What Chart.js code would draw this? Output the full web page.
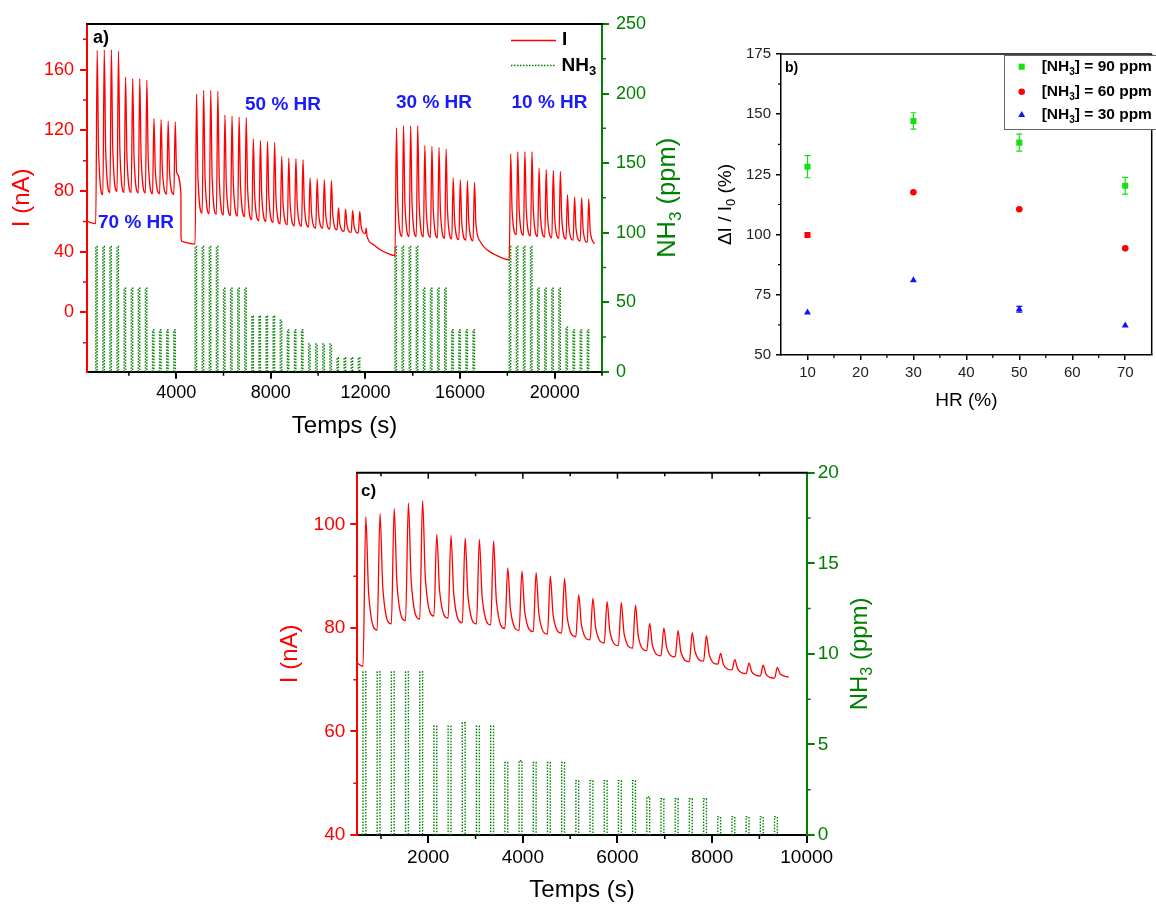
<!DOCTYPE html>
<html>
<head>
<meta charset="utf-8">
<title>NH3 response vs humidity</title>
<script src="https://cdn.jsdelivr.net/npm/chart.js@4.4.1/dist/chart.umd.min.js"></script>
<style>
  html, body { margin:0; padding:0; background:#ffffff; }
  body { width:1156px; height:906px; position:relative; overflow:hidden; }
  canvas { position:absolute; display:block; }
</style>
</head>
<body>
<canvas id="ca" width="700" height="450" style="left:0px;top:0px"></canvas>
<canvas id="cb" width="456" height="420" style="left:700px;top:0px"></canvas>
<canvas id="cc" width="620" height="451" style="left:270px;top:455px"></canvas>
<script>
const FAM = '"Liberation Sans", Arial, Helvetica, sans-serif';
Chart.defaults.font.family = FAM;
Chart.defaults.color = '#000';

// ================= DATA : panel a =================
const aXTicks  = [4000, 8000, 12000, 16000, 20000];
const aXMinor  = [2000, 6000, 10000, 14000, 18000, 22000];
const aYTicks  = [0, 40, 80, 120, 160];
const aYMinor  = [-20, 20, 60, 100, 140, 180];
const aY2Ticks = [0, 50, 100, 150, 200, 250];
const aY2Minor = [25, 75, 125, 175, 225];
const aHRText  = ['70 % HR', '50 % HR', '30 % HR', '10 % HR'];

const aLeadT = [230, 600];
const aLeadI = [60.0, 58.5];

const a1Onsets  = [600, 900, 1200, 1500, 1800, 2100, 2400, 2700, 3000, 3300, 3600, 3900];
const a1End     = 4200;
const a1Nh3     = [90, 90, 90, 90, 60, 60, 60, 60, 30, 30, 30, 30];
const a1Peaks   = [172.6, 173.0, 173.0, 172.0, 155.0, 154.0, 154.0, 153.0, 127.6, 127.0, 126.0, 125.6];
const a1Knees   = [106, 107, 108, 107, 102, 101, 101, 100, 93, 93, 92, 92];
const a1Troughs = [77.5, 79.0, 79.7, 79.0, 79.0, 78.7, 78.7, 78.2, 78.2, 78.0, 77.7, 77.5];

const aGap1T = [4205, 4240, 4800];
const aGap1I = [49.7, 46.8, 45.2];

const a2Onsets  = [4800, 5100, 5400, 5700, 6000, 6300, 6600, 6900, 7200, 7500, 7800, 8100,
                   8400, 8700, 9000, 9300, 9600, 9900, 10200, 10500, 10800, 11100, 11400, 11700];
const a2End     = 12000;
const a2Nh3     = [90, 90, 90, 90, 60, 60, 60, 60, 40, 40, 40, 40, 37, 30, 30, 30, 20, 20, 20, 20, 10, 10, 10, 10];
const a2Peaks   = [143.9, 146.3, 146.3, 145.6, 130.0, 129.4, 128.7, 128.3, 114.2, 113.3, 112.6, 112.0,
                   102.8, 101.7, 101.3, 100.7, 88.5, 87.9, 87.4, 86.8, 68.8, 68.1, 67.2, 66.5];
const a2Knees   = [89.0, 89.4, 89.1, 88.6, 83.7, 83.3, 82.9, 81.3, 76.5, 76.0, 75.3, 74.5,
                   71.3, 70.5, 70.1, 69.6, 65.5, 65.3, 64.7, 64.2, 58.0, 57.3, 56.8, 56.4];
const a2Troughs = [65.5, 65.0, 64.6, 64.2, 63.8, 63.5, 63.2, 61.1, 60.4, 60.0, 59.3, 58.4,
                   57.8, 57.1, 56.7, 56.3, 55.6, 55.6, 54.9, 54.5, 53.4, 52.7, 52.3, 52.0];

const aGap2T = [12030, 12070, 12350, 12630, 12915, 13250];
const aGap2I = [55.6, 50.1, 44.6, 41.3, 39.1, 37.4];

const a3Onsets  = [13250, 13550, 13850, 14150, 14450, 14750, 15050, 15350, 15650, 15950, 16250, 16550];
const a3End     = 16850;
const a3Nh3     = [90, 90, 90, 90, 60, 60, 60, 60, 30, 30, 30, 30];
const a3Peaks   = [121.5, 123.0, 123.0, 123.0, 110.0, 109.4, 108.7, 107.8, 88.5, 87.4, 86.8, 85.6];
const a3Knees   = [71.5, 71.9, 71.9, 71.8, 67.7, 67.3, 66.8, 66.3, 60.2, 59.6, 59.1, 58.4];
const a3Troughs = [50.0, 50.0, 50.0, 49.8, 49.5, 49.2, 48.8, 48.5, 48.0, 47.6, 47.2, 46.8];

const aGap3T = [17140, 17490, 18080];
const aGap3I = [41.3, 38.0, 34.7];

const a4Onsets  = [18080, 18380, 18680, 18980, 19280, 19580, 19880, 20180, 20480, 20780, 21080, 21380];
const a4End     = 21680;
const a4Nh3     = [90, 90, 90, 90, 60, 60, 60, 60, 32, 30, 30, 30];
const a4Peaks   = [104.5, 106.0, 106.0, 106.0, 95.1, 94.0, 93.5, 92.9, 77.5, 76.0, 75.4, 74.7];
const a4Knees   = [67.2, 67.4, 67.1, 66.8, 63.3, 62.6, 62.2, 61.8, 56.6, 55.7, 55.0, 54.1];
const a4Troughs = [51.2, 50.8, 50.4, 50.0, 49.6, 49.2, 48.8, 48.4, 47.6, 47.0, 46.2, 45.3];

// ================= DATA : panel b =================
const bHR     = [10, 30, 50, 70];
const bXTicks = [10, 20, 30, 40, 50, 60, 70];
const bXMinor = [15, 25, 35, 45, 55, 65];
const bYTicks = [50, 75, 100, 125, 150, 175];
const bYMinor = [62.5, 87.5, 112.5, 137.5, 162.5];
const bConc   = ['90', '60', '30'];
const b90     = [128.2, 147.2, 138.2, 120.3];
const b90Err  = [4.6, 3.4, 3.5, 3.5];
const b60     = [99.8, 117.6, 110.5, 94.3];
const b30     = [67.6, 81.0, 69.0, 62.3];
const b30Err  = [0, 0, 1.2, 0];

// ================= DATA : panel c =================
const cXTicks  = [2000, 4000, 6000, 8000, 10000];
const cXMinor  = [1000, 3000, 5000, 7000, 9000];
const cTopMaj  = [2000, 4000, 6000, 8000];
const cYTicks  = [40, 60, 80, 100];
const cYMinor  = [50, 70, 90];
const cY2Ticks = [0, 5, 10, 15, 20];
const cY2Minor = [2.5, 7.5, 12.5, 17.5];

const cLeadT = [500, 620];
const cLeadI = [73.2, 72.6];
const cOnsets  = [620, 920, 1220, 1520, 1820, 2120, 2420, 2720, 3020, 3320, 3620, 3920, 4220, 4520, 4820,
                  5120, 5420, 5720, 6020, 6320, 6620, 6920, 7220, 7520, 7820, 8120, 8420, 8720, 9020, 9320];
const cEnd     = 9620;
const cNh3     = [9, 9, 9, 9, 9, 6, 6, 6.2, 6, 6, 4, 4.1, 4, 4, 4, 3, 3, 3, 3, 3, 2.1, 2, 2, 2, 2, 1, 1, 1, 1, 1];
const cPeaks   = [101.5, 102.1, 103.1, 104.1, 104.6, 98.1, 97.9, 97.4, 97.1, 96.8, 91.6, 91.0, 90.7, 90.0, 89.6,
                  86.4, 85.7, 85.1, 84.9, 84.4, 80.9, 80.0, 79.5, 79.1, 78.5, 75.1, 73.9, 73.2, 72.8, 72.4];
const cKnees   = [86.6, 87.6, 88.3, 88.9, 89.4, 87.1, 86.4, 86.1, 85.9, 85.3, 83.4, 83.0, 82.6, 82.5, 81.9,
                  80.5, 79.9, 79.3, 78.9, 78.4, 76.6, 76.2, 75.4, 75.4, 74.8, 72.9, 72.1, 71.5, 71.1, 71.1];
const cTroughs = [79.6, 80.8, 81.4, 81.7, 82.3, 81.9, 81.0, 80.8, 80.6, 79.9, 79.5, 79.3, 78.8, 79.0, 78.3,
                  77.7, 77.1, 76.6, 76.1, 75.6, 74.6, 74.4, 73.5, 73.6, 73.0, 71.9, 71.2, 70.7, 70.3, 70.5];

// timing of each exposure (s): gas on, time of current peak, time of the read "knee" point
const EXPO_S = 60, RISE_S = 60, KNEE_S = 120;

// ================= build series from the read values =================
function addPoints(pts, ts, vs) { ts.forEach((t, i) => pts.push({ x: t, y: vs[i] })); }
function addCurrent(pts, onsets, end, peaks, knees, troughs) {
  onsets.forEach((t, k) => {
    pts.push({ x: t + RISE_S, y: peaks[k] });
    pts.push({ x: t + KNEE_S, y: knees[k] });
    pts.push({ x: k + 1 < onsets.length ? onsets[k + 1] : end, y: troughs[k] });
  });
}
function addGas(pts, onsets, levels) {
  onsets.forEach((t, k) => {
    pts.push({ x: t, y: 0 }, { x: t, y: levels[k] }, { x: t + EXPO_S, y: levels[k] }, { x: t + EXPO_S, y: 0 }, { x: t + EXPO_S + 1, y: null });
  });
}

const aI = [];
addPoints(aI, aLeadT, aLeadI);
addCurrent(aI, a1Onsets, a1End, a1Peaks, a1Knees, a1Troughs);
addPoints(aI, aGap1T, aGap1I);
addCurrent(aI, a2Onsets, a2End, a2Peaks, a2Knees, a2Troughs);
addPoints(aI, aGap2T, aGap2I);
addCurrent(aI, a3Onsets, a3End, a3Peaks, a3Knees, a3Troughs);
addPoints(aI, aGap3T, aGap3I);
addCurrent(aI, a4Onsets, a4End, a4Peaks, a4Knees, a4Troughs);

const aG = [];
addGas(aG, a1Onsets, a1Nh3);
addGas(aG, a2Onsets, a2Nh3);
addGas(aG, a3Onsets, a3Nh3);
addGas(aG, a4Onsets, a4Nh3);

const cI = [];
addPoints(cI, cLeadT, cLeadI);
addCurrent(cI, cOnsets, cEnd, cPeaks, cKnees, cTroughs);
const cG = [];
addGas(cG, cOnsets, cNh3);

// ================= styling helpers =================
const RED = '#ff0000', GREEN = '#008000', BLUE = '#1a1aff', LIME = '#14e014', DBLUE = '#1010ff';

function axis(o) {
  return {
    type: 'linear', min: o.min, max: o.max, position: o.pos,
    afterFit: s => { if (s.isHorizontal()) s.height = o.size; else s.width = o.size; },
    afterBuildTicks: s => { s.ticks = o.ticks.map(v => ({ value: v })); },
    ticks: { color: o.color, font: { size: o.font }, padding: o.pad, autoSkip: false, maxRotation: 0, minRotation: 0,
             callback: v => String(v) },
    grid: { drawOnChartArea: false, drawTicks: true, tickLength: o.tl, tickColor: o.tcolor || o.color,
            tickWidth: o.lw, color: o.tcolor || o.color, lineWidth: o.lw },
    border: { display: true, color: o.bcolor || o.color, width: o.lw }
  };
}

function rich(ctx, x, y, parts, size, weight, color, rot, align) {
  ctx.save();
  ctx.translate(x, y);
  if (rot) ctx.rotate(rot);
  ctx.textBaseline = 'middle'; ctx.textAlign = 'left'; ctx.fillStyle = color;
  const fonts = parts.map(p => weight + ' ' + (p[1] ? Math.round(size * 0.66) : size) + 'px ' + FAM);
  const widths = parts.map((p, i) => { ctx.font = fonts[i]; return ctx.measureText(p[0]).width; });
  const total = widths.reduce((a, b) => a + b, 0);
  let cx = align === 'center' ? -total / 2 : (align === 'right' ? -total : 0);
  parts.forEach((p, i) => { ctx.font = fonts[i]; ctx.fillText(p[0], cx, p[1] ? size * 0.33 : 0); cx += widths[i]; });
  ctx.restore();
}

function minor(chart, id, vals, len, color, lw) {
  const s = chart.scales[id], ctx = chart.ctx;
  ctx.save(); ctx.strokeStyle = color; ctx.lineWidth = lw; ctx.beginPath();
  vals.forEach(v => {
    const p = s.getPixelForValue(v);
    if (s.isHorizontal()) { ctx.moveTo(p, s.top); ctx.lineTo(p, s.top + len); }
    else if (s.position === 'left') { ctx.moveTo(s.right, p); ctx.lineTo(s.right - len, p); }
    else { ctx.moveTo(s.left, p); ctx.lineTo(s.left + len, p); }
  });
  ctx.stroke(); ctx.restore();
}

function seg(ctx, x1, y1, x2, y2, color, lw, dash) {
  ctx.save(); ctx.strokeStyle = color; ctx.lineWidth = lw; ctx.setLineDash(dash || []);
  ctx.beginPath(); ctx.moveTo(x1, y1); ctx.lineTo(x2, y2); ctx.stroke(); ctx.restore();
}

const baseOpts = { responsive: false, animation: false, events: [],
  plugins: { legend: { display: false }, tooltip: { enabled: false }, title: { display: false } } };

// ================= chart a =================
new Chart(document.getElementById('ca'), {
  type: 'line',
  data: { datasets: [
    { label: 'I', data: aI, yAxisID: 'y', borderColor: RED, borderWidth: 1.3, pointRadius: 0,
      cubicInterpolationMode: 'monotone', borderJoinStyle: 'round', fill: false },
    { label: 'NH₃', data: aG, yAxisID: 'y2', borderColor: GREEN, borderWidth: 1.4, borderDash: [1.5, 1.5],
      pointRadius: 0, tension: 0, spanGaps: false, fill: false }
  ]},
  options: Object.assign({}, baseOpts, {
    layout: { padding: { top: 24, left: 0, right: 0, bottom: 0 } },
    scales: {
      x: axis({ min: 230, max: 22000, pos: 'bottom', size: 450 - 371.7, ticks: aXTicks, color: '#000', font: 18, pad: 4, tl: 7, lw: 2 }),
      y: axis({ min: -39, max: 190, pos: 'left', size: 87, ticks: aYTicks, color: RED, font: 18, pad: 6, tl: 7, lw: 2 }),
      y2: axis({ min: 0, max: 250, pos: 'right', size: 700 - 602, ticks: aY2Ticks, color: GREEN, font: 18, pad: 7, tl: 7, lw: 2 })
    }
  }),
  plugins: [{ id: 'decoA', afterDraw(chart) {
    const ctx = chart.ctx, ca = chart.chartArea;
    seg(ctx, ca.left - 1, ca.top, ca.right + 1, ca.top, '#000', 2);
    minor(chart, 'x', aXMinor, 4, '#000', 1.5);
    minor(chart, 'y', aYMinor, 4, RED, 1.5);
    minor(chart, 'y2', aY2Minor, 4, GREEN, 1.5);
    rich(ctx, 93, 38, [['a)']], 18, 'bold', '#000', 0, 'left');
    rich(ctx, 98, 223, [[aHRText[0]]], 19, 'bold', BLUE, 0, 'left');
    rich(ctx, 245, 105, [[aHRText[1]]], 19, 'bold', BLUE, 0, 'left');
    rich(ctx, 396, 103, [[aHRText[2]]], 19, 'bold', BLUE, 0, 'left');
    rich(ctx, 511.5, 102.5, [[aHRText[3]]], 19, 'bold', BLUE, 0, 'left');
    // legend
    seg(ctx, 511, 40.5, 556, 40.5, RED, 1.3);
    rich(ctx, 562, 40, [['I']], 19, 'bold', '#000', 0, 'left');
    seg(ctx, 511, 65.5, 556, 65.5, GREEN, 1.4, [1.5, 1.5]);
    rich(ctx, 561.5, 65.5, [['NH'], ['3', 1]], 19, 'bold', '#000', 0, 'left');
    // axis titles
    rich(ctx, 22, (ca.top + ca.bottom) / 2, [['I (nA)']], 24, 'normal', RED, -Math.PI / 2, 'center');
    rich(ctx, 668, (ca.top + ca.bottom) / 2, [['NH'], ['3', 1], [' (ppm)']], 25.5, 'normal', GREEN, -Math.PI / 2, 'center');
    rich(ctx, (ca.left + ca.right) / 2, 426, [['Temps (s)']], 24, 'normal', '#000', 0, 'center');
  }}]
});

// ================= chart b =================
function errBars(chart, xs, ys, es, color) {
  const sx = chart.scales.x, sy = chart.scales.y, ctx = chart.ctx;
  ctx.save(); ctx.strokeStyle = color; ctx.lineWidth = 1.2; ctx.beginPath();
  xs.forEach((x, i) => {
    if (!es[i]) return;
    const px = sx.getPixelForValue(x), p1 = sy.getPixelForValue(ys[i] + es[i]), p2 = sy.getPixelForValue(ys[i] - es[i]);
    ctx.moveTo(px, p1); ctx.lineTo(px, p2);
    ctx.moveTo(px - 3, p1); ctx.lineTo(px + 3, p1);
    ctx.moveTo(px - 3, p2); ctx.lineTo(px + 3, p2);
  });
  ctx.stroke(); ctx.restore();
}

new Chart(document.getElementById('cb'), {
  type: 'scatter',
  data: { datasets: [
    { label: '[NH3] = ' + bConc[0] + ' ppm', data: bHR.map((x, i) => ({ x, y: b90[i] })), pointStyle: 'rect',
      pointRadius: 4.3, backgroundColor: LIME, borderColor: LIME, pointBorderWidth: 0 },
    { label: '[NH3] = ' + bConc[1] + ' ppm', data: bHR.map((x, i) => ({ x, y: b60[i] })), pointStyle: ['rect', 'circle', 'circle', 'circle'],
      pointRadius: [4.3, 3.3, 3.3, 3.3], backgroundColor: RED, borderColor: RED, pointBorderWidth: 0 },
    { label: '[NH3] = ' + bConc[2] + ' ppm', data: bHR.map((x, i) => ({ x, y: b30[i] })), pointStyle: 'triangle',
      pointRadius: 4, backgroundColor: DBLUE, borderColor: DBLUE, pointBorderWidth: 0 }
  ]},
  options: Object.assign({}, baseOpts, {
    layout: { padding: { top: 54, left: 0, right: 1, bottom: 0 } },
    scales: {
      x: axis({ min: 5, max: 75, pos: 'bottom', size: 65, ticks: bXTicks, color: '#222', bcolor: '#000', tcolor: '#000', font: 15, pad: 4, tl: 5, lw: 1.5 }),
      y: axis({ min: 50, max: 175, pos: 'left', size: 81, ticks: bYTicks, color: '#222', bcolor: '#000', tcolor: '#000', font: 15, pad: 5, tl: 5, lw: 1.5 })
    }
  }),
  plugins: [{ id: 'decoB',
    beforeDatasetsDraw(chart) {
      errBars(chart, bHR, b90, b90Err, LIME);
      errBars(chart, bHR, b30, b30Err, DBLUE);
    },
    afterDraw(chart) {
      const ctx = chart.ctx, ca = chart.chartArea;
      seg(ctx, ca.left, ca.top, ca.right, ca.top, '#000', 1.5);
      seg(ctx, ca.right, ca.top, ca.right, ca.bottom, '#000', 1.5);
      minor(chart, 'x', bXMinor, 3, '#000', 1.2);
      minor(chart, 'y', bYMinor, 3, '#000', 1.2);
      rich(ctx, 85, 68, [['b)']], 14, 'bold', '#000', 0, 'left');
      // legend box
      ctx.save(); ctx.fillStyle = '#ffffff'; ctx.fillRect(304.5, 55.5, 160, 74);
      ctx.strokeStyle = '#666'; ctx.lineWidth = 1; ctx.strokeRect(304.5, 55.5, 160, 74); ctx.restore();
      const H = Chart.helpers;
      const rows = [[LIME, 'rect', 4.3, 66.7], [RED, 'circle', 3.3, 91.7], [DBLUE, 'triangle', 4, 115]];
      rows.forEach((r, i) => {
        ctx.save(); ctx.fillStyle = r[0]; ctx.strokeStyle = r[0];
        H.drawPoint(ctx, { pointStyle: r[1], radius: r[2], rotation: 0, borderWidth: 0 }, 321.7, r[3]);
        ctx.restore();
        rich(ctx, 341.7, r[3], [['[NH'], ['3', 1], ['] = ' + bConc[i] + ' ppm']], 15.5, 'bold', '#000', 0, 'left');
      });
      rich(ctx, 25.5, (ca.top + ca.bottom) / 2, [['ΔI / I'], ['0', 1], [' (%)']], 19, 'normal', '#000', -Math.PI / 2, 'center');
      rich(ctx, (ca.left + ca.right) / 2, 400.7, [['HR (%)']], 19, 'normal', '#000', 0, 'center');
    }
  }]
});

// ================= chart c =================
new Chart(document.getElementById('cc'), {
  type: 'line',
  data: { datasets: [
    { label: 'I', data: cI, yAxisID: 'y', borderColor: RED, borderWidth: 1.3, pointRadius: 0,
      cubicInterpolationMode: 'monotone', borderJoinStyle: 'round', fill: false },
    { label: 'NH₃', data: cG, yAxisID: 'y2', borderColor: GREEN, borderWidth: 1.4, borderDash: [1.5, 1.5],
      pointRadius: 0, tension: 0, spanGaps: false, fill: false }
  ]},
  options: Object.assign({}, baseOpts, {
    layout: { padding: { top: 17.7, left: 0, right: 0, bottom: 0 } },
    scales: {
      x: axis({ min: 500, max: 10000, pos: 'bottom', size: 71, ticks: cXTicks, color: '#000', font: 19, pad: 3, tl: 8, lw: 2 }),
      y: axis({ min: 40, max: 110, pos: 'left', size: 87.3, ticks: cYTicks, color: RED, font: 19, pad: 5, tl: 7, lw: 2 }),
      y2: axis({ min: 0, max: 20, pos: 'right', size: 620 - 536.7, ticks: cY2Ticks, color: GREEN, font: 19, pad: 3, tl: 8, lw: 2 })
    }
  }),
  plugins: [{ id: 'decoC', afterDraw(chart) {
    const ctx = chart.ctx, ca = chart.chartArea, sx = chart.scales.x;
    seg(ctx, ca.left - 1, ca.top, ca.right + 1, ca.top, '#000', 2);
    cTopMaj.forEach(v => { const p = sx.getPixelForValue(v); seg(ctx, p, ca.top, p, ca.top + 6, '#000', 1.5); });
    cXMinor.forEach(v => { const p = sx.getPixelForValue(v); seg(ctx, p, ca.top, p, ca.top + 3.5, '#000', 1.5); });
    minor(chart, 'x', cXMinor, 4, '#000', 1.5);
    minor(chart, 'y', cYMinor, 4, RED, 1.5);
    minor(chart, 'y2', cY2Minor, 4, GREEN, 1.5);
    rich(ctx, 91, 36, [['c)']], 17, 'bold', '#000', 0, 'left');
    rich(ctx, 20, (ca.top + ca.bottom) / 2, [['I (nA)']], 24, 'normal', RED, -Math.PI / 2, 'center');
    rich(ctx, 590, (ca.top + ca.bottom) / 2, [['NH'], ['3', 1], [' (ppm)']], 24, 'normal', GREEN, -Math.PI / 2, 'center');
    rich(ctx, (ca.left + ca.right) / 2, 435.5, [['Temps (s)']], 24, 'normal', '#000', 0, 'center');
  }}]
});
</script>
</body>
</html>
